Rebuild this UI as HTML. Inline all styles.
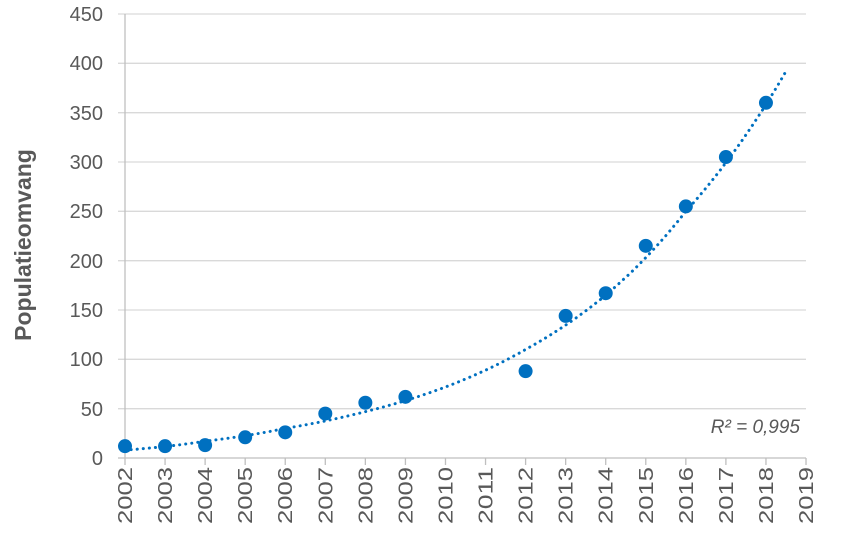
<!DOCTYPE html>
<html><head><meta charset="utf-8"><style>
body{margin:0;background:#fff}
svg text{font-family:"Liberation Sans",sans-serif;fill:#595959}
</style></head><body>
<svg width="842" height="546" viewBox="0 0 842 546">
<g stroke="#d9d9d9" stroke-width="1.3">
<line x1="118" y1="14" x2="806" y2="14"/>
<line x1="118" y1="63.3" x2="806" y2="63.3"/>
<line x1="118" y1="112.7" x2="806" y2="112.7"/>
<line x1="118" y1="162" x2="806" y2="162"/>
<line x1="118" y1="211.3" x2="806" y2="211.3"/>
<line x1="118" y1="260.7" x2="806" y2="260.7"/>
<line x1="118" y1="310" x2="806" y2="310"/>
<line x1="118" y1="359.3" x2="806" y2="359.3"/>
<line x1="118" y1="408.7" x2="806" y2="408.7"/>
</g>
<line x1="125" y1="14" x2="125" y2="458" stroke="#bfbfbf" stroke-width="1.3"/>
<line x1="118" y1="458" x2="806" y2="458" stroke="#bfbfbf" stroke-width="1.3"/>
<g stroke="#bfbfbf" stroke-width="1.3" id="ticks"></g>
<g font-size="20" text-anchor="end">
<text x="103" y="21">450</text><text x="103" y="70">400</text><text x="103" y="120">350</text>
<text x="103" y="169">300</text><text x="103" y="218">250</text><text x="103" y="268">200</text>
<text x="103" y="317">150</text><text x="103" y="366">100</text><text x="103" y="416">50</text>
<text x="103" y="465">0</text>
</g>
<g id="years" font-size="20" text-anchor="end"></g>
<text transform="translate(31,245) rotate(-90)" font-size="23" font-weight="bold" text-anchor="middle">Populatieomvang</text>
<text x="800" y="433" font-size="19" font-style="italic" text-anchor="end">R² = 0,995</text>
<path id="trend" fill="none" stroke="#0070c0" stroke-width="3" stroke-dasharray="0.1 6" stroke-linecap="round"/>
<g id="pts" fill="#0070c0"></g>
</svg>
<script>
var X=function(y){return 125+(y-2002)*40.06},Y=function(v){return 458-v*0.9867};
var ns="http://www.w3.org/2000/svg",t=document.getElementById("ticks"),yr=document.getElementById("years");
for(var y=2002;y<=2019;y++){var l=document.createElementNS(ns,"line");l.setAttribute("x1",X(y));l.setAttribute("x2",X(y));l.setAttribute("y1",458);l.setAttribute("y2",465);t.appendChild(l);
var tx=document.createElementNS(ns,"text");tx.setAttribute("transform","translate("+(X(y)+7)+",467) rotate(-90)");tx.setAttribute("textLength","57");tx.setAttribute("lengthAdjust","spacingAndGlyphs");tx.textContent=y;yr.appendChild(tx);}
var d=[[2002,12],[2003,12],[2004,13],[2005,21],[2006,26],[2007,45],[2008,56],[2009,62],[2012,88],[2013,144],[2014,167],[2015,215],[2016,255],[2017,305],[2018,360]];
var g=document.getElementById("pts");d.forEach(function(p){var c=document.createElementNS(ns,"circle");c.setAttribute("cx",X(p[0]));c.setAttribute("cy",Y(p[1]));c.setAttribute("r",7);g.appendChild(c);});
var k=[[2002,8],[2004,17],[2006,30],[2008,47],[2010,72],[2012,110],[2014,165],[2016,250],[2018.5,392]];
function f(x){for(var i=0;i<k.length-1;i++){if(x<=k[i+1][0]){var a=k[i],b=k[i+1];var r=(x-a[0])/(b[0]-a[0]);return Math.exp(Math.log(a[1])*(1-r)+Math.log(b[1])*r);}}return k[k.length-1][1];}
var s="";for(var x=2002;x<=2018.5;x+=0.05){s+=(s?"L":"M")+X(x).toFixed(1)+","+Y(f(x)).toFixed(1);}
document.getElementById("trend").setAttribute("d",s);
</script>
</body></html>
